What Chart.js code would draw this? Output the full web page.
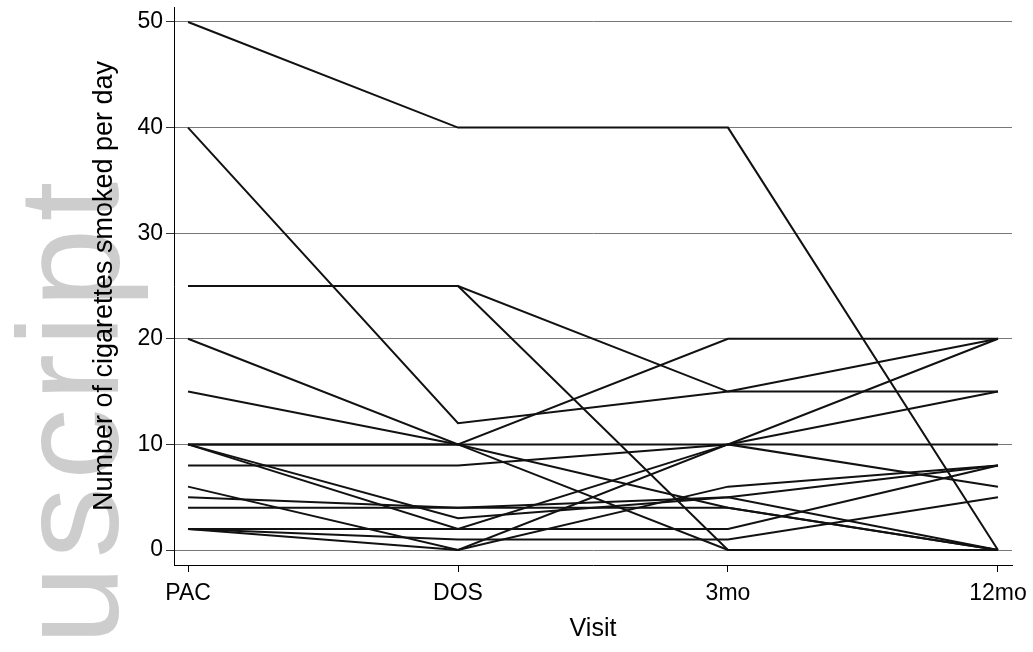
<!DOCTYPE html>
<html>
<head>
<meta charset="utf-8">
<script src="https://cdn.jsdelivr.net/npm/chart.js@4.4.1/dist/chart.umd.min.js"></script>
<style>
  html, body { margin: 0; padding: 0; background: #fff; }
  #wrap { position: relative; width: 1033px; height: 652px; }
</style>
</head>
<body>
<div id="wrap"><canvas id="chart"></canvas></div>
<script>
const visits = ["PAC", "DOS", "3mo", "12mo"];
const yTicks = [0, 10, 20, 30, 40, 50];

// cigarettes per day, one entry per participant (same order in every array)
const pac  = [50, 40, 25, 25, 20, 15, 10, 10, 10, 10, 8, 6, 5, 4, 2, 2, 2];
const dos  = [40, 12, 25, 25, 10, 10, 10, 10, 3, 2, 8, 0, 4, 4, 2, 1, 0];
const mo3  = [40, 15, 15, 0, 20, 10, 4, 0, 5, 10, 10, 10, 5, 4, 2, 1, 6];
const mo12 = [0, 20, 15, 0, 20, 10, 0, 0, 0, 15, 20, 6, 8, 0, 8, 5, 8];

const FONT = '"Liberation Sans", Arial, Helvetica, sans-serif';
Chart.defaults.font.family = FONT;
Chart.defaults.color = "#000";

function watermarkPlugin(text) {
  return {
    id: "watermark",
    beforeDraw(chart) {
      const ctx = chart.ctx;
      ctx.save();
      ctx.translate(118, 645);
      ctx.rotate(-Math.PI / 2);
      ctx.font = `143px ${FONT}`;
      ctx.letterSpacing = "7px";
      ctx.fillStyle = "#cdcdcd";
      ctx.textBaseline = "alphabetic";
      ctx.fillText(text, 0, 0);
      ctx.restore();
    }
  };
}

const datasets = pac.map((_, i) => ({
  data: [pac[i], dos[i], mo3[i], mo12[i]].map((y, x) => ({ x, y })),
  borderColor: "#111",
  borderWidth: 2,
  pointRadius: 0,
  fill: false,
  tension: 0
}));

new Chart(document.getElementById("chart"), {
  type: "line",
  data: { datasets },
  plugins: [watermarkPlugin("uscript")],
  options: {
    responsive: true,
    maintainAspectRatio: false,
    animation: false,
    layout: { padding: { top: 7, right: 21, left: 0, bottom: 0 } },
    plugins: {
      legend: { display: false },
      tooltip: { enabled: false }
    },
    scales: {
      x: {
        type: "linear",
        min: -0.052,
        max: 3.052,
        afterBuildTicks(scale) {
          scale.ticks = visits.map((_, i) => ({ value: i }));
        },
        afterFit(scale) {
          scale.height = 87;
          scale.paddingLeft = 0;
          scale.paddingRight = 0;
        },
        ticks: {
          callback: (v) => visits[v] ?? "",
          font: { size: 23 },
          padding: 8,
          maxRotation: 0,
          autoSkip: false
        },
        grid: {
          drawOnChartArea: false,
          tickLength: 7,
          color: "#000",
          tickColor: "#000"
        },
        border: { color: "#000", width: 1 },
        title: {
          display: true,
          text: "Visit",
          font: { size: 25 },
          padding: { top: 0, bottom: 8 }
        }
      },
      y: {
        min: -1.42,
        max: 51.42,
        afterBuildTicks(scale) {
          scale.ticks = yTicks.map((v) => ({ value: v }));
        },
        afterFit(scale) {
          scale.width = 174;
          scale.paddingTop = 0;
          scale.paddingBottom = 0;
        },
        ticks: {
          font: { size: 23 },
          padding: 3
        },
        grid: {
          color: "#777",
          tickLength: 8,
          tickColor: "#333"
        },
        border: { color: "#000", width: 1 },
        title: {
          display: true,
          text: "Number of cigarettes smoked per day",
          font: { size: 27 },
          padding: { top: 88, bottom: 0 }
        }
      }
    }
  }
});
</script>
</body>
</html>
